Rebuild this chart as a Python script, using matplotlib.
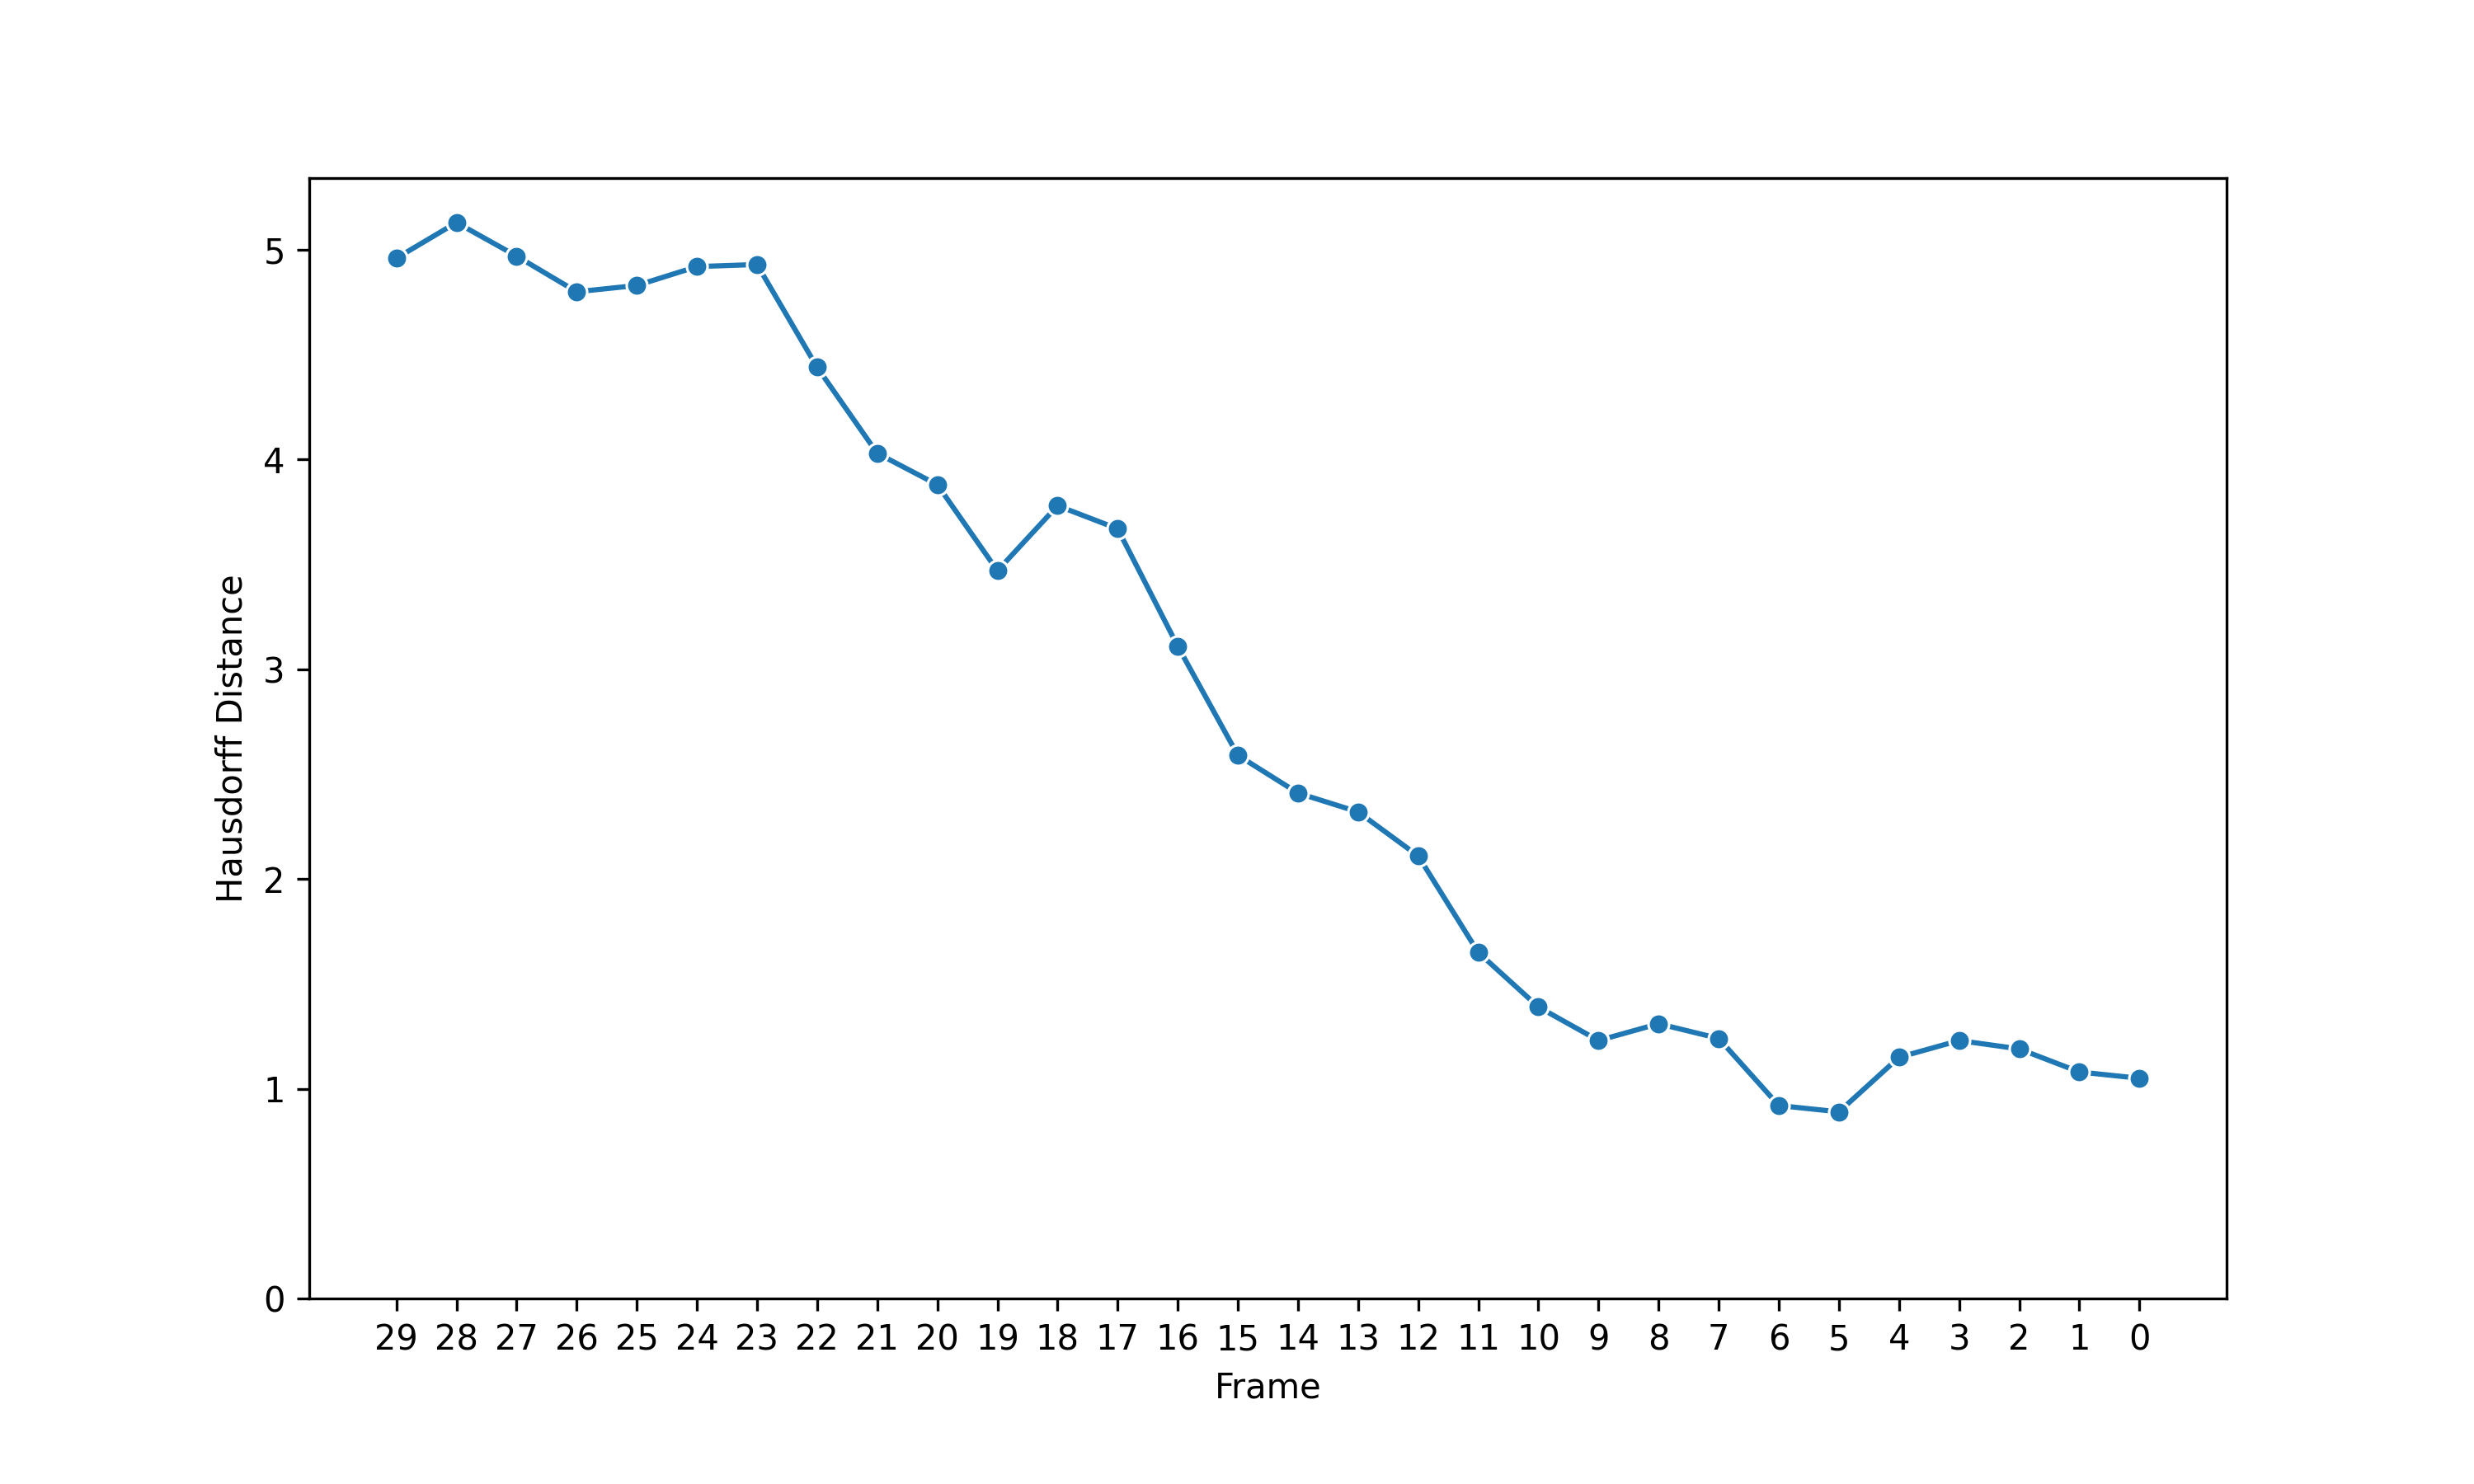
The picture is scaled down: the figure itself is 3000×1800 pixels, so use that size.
import matplotlib
matplotlib.use("Agg")
import matplotlib.pyplot as plt
import seaborn as sns

frames = list(range(29, -1, -1))
hausdorff = [4.96, 5.13, 4.97, 4.80, 4.83, 4.92, 4.93, 4.44, 4.03, 3.88,
             3.47, 3.78, 3.67, 3.11, 2.59, 2.41, 2.32, 2.11, 1.65, 1.39,
             1.23, 1.31, 1.24, 0.92, 0.89, 1.15, 1.23, 1.19, 1.08, 1.05]

fig, ax = plt.subplots(figsize=(10, 6))
sns.lineplot(x=frames, y=hausdorff, marker="o", ax=ax)
ax.invert_xaxis()
ax.set_xticks(frames)
ax.set_ylim(bottom=0)
ax.set_xlabel("Frame")
ax.set_ylabel("Hausdorff Distance")
plt.subplots_adjust(bottom=0.125)
plt.savefig("out.png", dpi=300)
